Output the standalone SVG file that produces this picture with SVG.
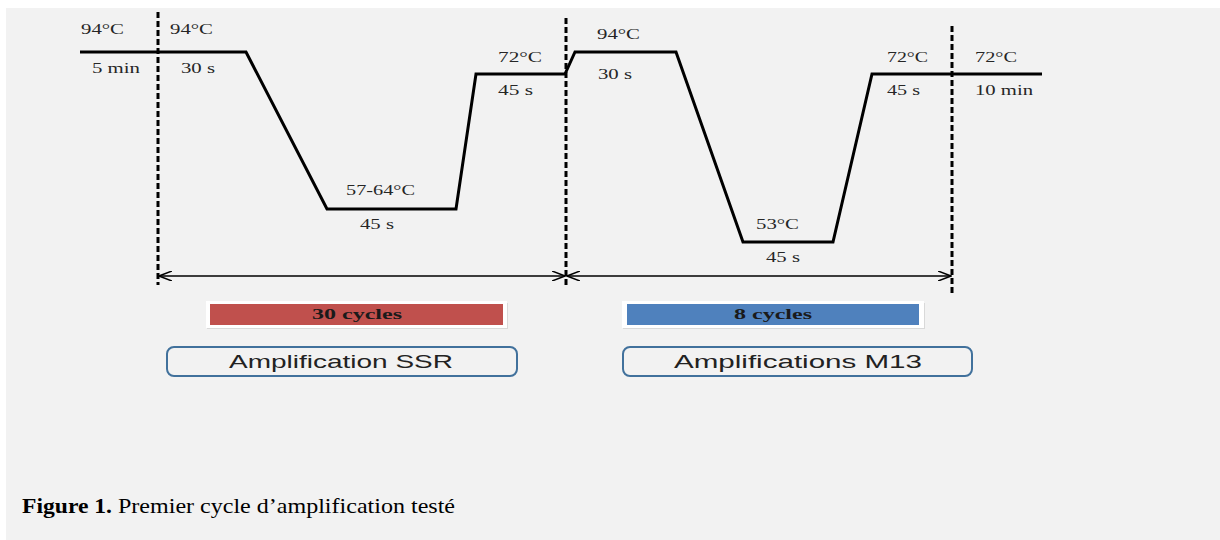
<svg xmlns="http://www.w3.org/2000/svg" width="1220" height="540" viewBox="0 0 1220 540">
<defs>
<style>
.lbl{font-family:"Liberation Serif","Times New Roman",serif;font-size:14px;fill:#262626}
.bar{font-family:"Liberation Serif","Times New Roman",serif;font-size:15px;font-weight:bold;fill:#1a1a1a}
.box{font-family:"Liberation Sans",Arial,sans-serif;font-size:19px;fill:#222}
.cap{font-family:"Liberation Serif","Times New Roman",serif;font-size:22px;fill:#000}
.dash{stroke:#000;stroke-width:3;stroke-dasharray:6 3;fill:none}
.prof{stroke:#000;stroke-width:3;fill:none;stroke-linejoin:miter}
.arr{stroke:#000;stroke-width:1.5;fill:none}
.rbox{fill:#f2f2f2;stroke:#41719c;stroke-width:2}
</style>
<marker id="ah" viewBox="0 0 14 10" refX="13" refY="5" markerWidth="14" markerHeight="10" markerUnits="userSpaceOnUse" orient="auto-start-reverse">
<path d="M0,0 L13,5 L0,10" fill="none" stroke="#000" stroke-width="1.5"/>
</marker>
</defs>
<rect x="0" y="0" width="1220" height="540" fill="#ffffff"/>
<rect x="6" y="8" width="1214" height="532" fill="#f2f2f2"/>

<g id="connectors">
<path id="profile" class="prof" d="M80,52 L246,52 L327,209 L456,209 L476,74 L565,74 L575,52 L676,52 L743,242 L833,242 L872,74 L1042,74"/>
<line class="dash" x1="158" y1="12" x2="158" y2="285"/>
<line class="dash" x1="566" y1="18" x2="566" y2="288"/>
<line class="dash" x1="952" y1="26" x2="952" y2="293"/>
<line class="arr" x1="159" y1="276" x2="565" y2="276" marker-start="url(#ah)" marker-end="url(#ah)"/>
<line class="arr" x1="567" y1="276" x2="951" y2="276" marker-start="url(#ah)" marker-end="url(#ah)"/>
</g>

<g id="labels">
<text class="lbl" x="81" y="34" textLength="43" lengthAdjust="spacingAndGlyphs">94°C</text>
<text class="lbl" x="92" y="73" textLength="48" lengthAdjust="spacingAndGlyphs">5 min</text>
<text class="lbl" x="170" y="34" textLength="43" lengthAdjust="spacingAndGlyphs">94°C</text>
<text class="lbl" x="181" y="73" textLength="34" lengthAdjust="spacingAndGlyphs">30 s</text>
<text class="lbl" x="498" y="62" textLength="44" lengthAdjust="spacingAndGlyphs">72°C</text>
<text class="lbl" x="498" y="95" textLength="35" lengthAdjust="spacingAndGlyphs">45 s</text>
<text class="lbl" x="346" y="195" textLength="69" lengthAdjust="spacingAndGlyphs">57-64°C</text>
<text class="lbl" x="360" y="229" textLength="34" lengthAdjust="spacingAndGlyphs">45 s</text>
<text class="lbl" x="597" y="39" textLength="43" lengthAdjust="spacingAndGlyphs">94°C</text>
<text class="lbl" x="598" y="79" textLength="34" lengthAdjust="spacingAndGlyphs">30 s</text>
<text class="lbl" x="756" y="229" textLength="43" lengthAdjust="spacingAndGlyphs">53°C</text>
<text class="lbl" x="766" y="262" textLength="34" lengthAdjust="spacingAndGlyphs">45 s</text>
<text class="lbl" x="887" y="62" textLength="41" lengthAdjust="spacingAndGlyphs">72°C</text>
<text class="lbl" x="887" y="95" textLength="33" lengthAdjust="spacingAndGlyphs">45 s</text>
<text class="lbl" x="975" y="62" textLength="42" lengthAdjust="spacingAndGlyphs">72°C</text>
<text class="lbl" x="975" y="95" textLength="58" lengthAdjust="spacingAndGlyphs">10 min</text>
</g>

<g id="bar-30">
<rect x="207" y="303" width="301" height="26" fill="#d9d9d9"/>
<rect x="206" y="301" width="301" height="27" fill="#ffffff"/>
<rect x="210" y="304" width="293" height="21" fill="#c0504d"/>
<text class="bar" x="312" y="319" textLength="90" lengthAdjust="spacingAndGlyphs">30 cycles</text>
</g>
<g id="bar-8">
<rect x="623" y="303" width="302" height="26" fill="#d9d9d9"/>
<rect x="622" y="301" width="302" height="27" fill="#ffffff"/>
<rect x="627" y="304" width="292" height="21" fill="#4f81bd"/>
<text class="bar" x="734" y="319" textLength="78" lengthAdjust="spacingAndGlyphs">8 cycles</text>
</g>
<g id="box-ssr">
<rect class="rbox" x="167" y="347" width="350" height="29" rx="7"/>
<text class="box" x="229" y="368" textLength="224" lengthAdjust="spacingAndGlyphs">Amplification SSR</text>
</g>
<g id="box-m13">
<rect class="rbox" x="623" y="347" width="349" height="29" rx="7"/>
<text class="box" x="674" y="368" textLength="248" lengthAdjust="spacingAndGlyphs">Amplifications M13</text>
</g>

<g id="caption">
<text class="cap" x="22" y="513" font-weight="bold" textLength="90" lengthAdjust="spacingAndGlyphs">Figure 1.</text>
<text class="cap" x="118" y="513" textLength="337" lengthAdjust="spacingAndGlyphs">Premier cycle d’amplification testé</text>
</g>
</svg>
